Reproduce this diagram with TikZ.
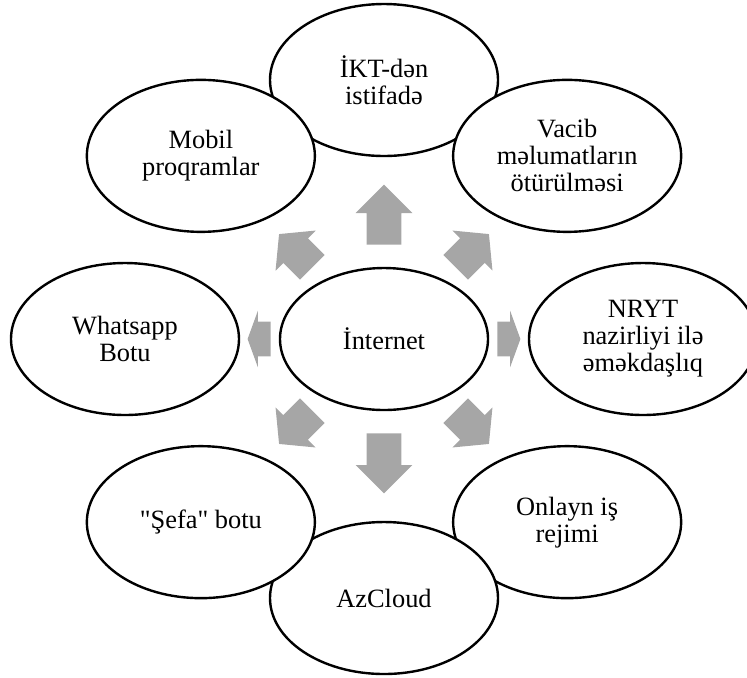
\documentclass[tikz,border=0pt]{standalone}
\usepackage{fontspec}
\setmainfont{Liberation Serif}[Ligatures=TeXOff]
\usetikzlibrary{shapes.geometric,shapes.arrows}
\definecolor{arrowgray}{RGB}{166,166,166}
\begin{document}
\begin{tikzpicture}[
		every node/.style={font=\fontsize{13.2}{13.5}\selectfont},
		bubble/.style={ellipse,draw,line width=1.2pt,fill=white,align=center,inner sep=0pt,minimum width=114pt,minimum height=76pt},
		hub/.style={bubble,minimum width=104pt,minimum height=71pt},
		spoke/.style={single arrow,draw=none,fill=arrowgray,inner xsep=0pt,inner ysep=8.5pt,single arrow head extend=5.5pt,anchor=tail}
	]
		\useasboundingbox (-192pt,-169pt) rectangle (181.5pt,169.5pt);
		
		\node [hub] (internet) at (0,0) {İnternet};
		
		\node [spoke,minimum height=30pt,single arrow tip angle=90,rotate=90] (to-ikt) at (90:47pt) {};
		\node [spoke,minimum height=30pt,single arrow tip angle=90,rotate=-90] (to-azcloud) at (-90:47pt) {};
		\node [spoke,minimum height=23.5pt,single arrow tip angle=101,rotate=45] (to-vacib) at (45:50.5pt) {};
		\node [spoke,minimum height=23.5pt,single arrow tip angle=101,rotate=-45] (to-onlayn) at (-45:50.5pt) {};
		\node [spoke,minimum height=23.5pt,single arrow tip angle=101,rotate=-135] (to-sefa) at (-135:50.5pt) {};
		\node [spoke,minimum height=23.5pt,single arrow tip angle=101,rotate=135] (to-mobil) at (135:50.5pt) {};
		\node [spoke,minimum height=11.5pt,single arrow tip angle=140,rotate=0] (to-nryt) at (0:56.5pt) {};
		\node [spoke,minimum height=11.5pt,single arrow tip angle=140,rotate=180] (to-whatsapp) at (180:56.5pt) {};
		
		\node [bubble] (ikt) at (90:129.5pt) {İKT-dən\\istifadə};
		\node [bubble] (vacib) at (45:129.5pt) {Vacib\\məlumatların\\ötürülməsi};
		\node [bubble] (nryt) at (0:129.5pt) {NRYT\\nazirliyi ilə\\əməkdaşlıq};
		\node [bubble] (onlayn) at (-45:129.5pt) {Onlayn iş\\rejimi};
		\node [bubble] (azcloud) at (-90:129.5pt) {AzCloud};
		\node [bubble] (sefa) at (-135:129.5pt) {"Şefa" botu};
		\node [bubble] (whatsapp) at (180:129.5pt) {Whatsapp\\Botu};
		\node [bubble] (mobil) at (135:129.5pt) {Mobil\\proqramlar};
	\end{tikzpicture}
\end{document}
